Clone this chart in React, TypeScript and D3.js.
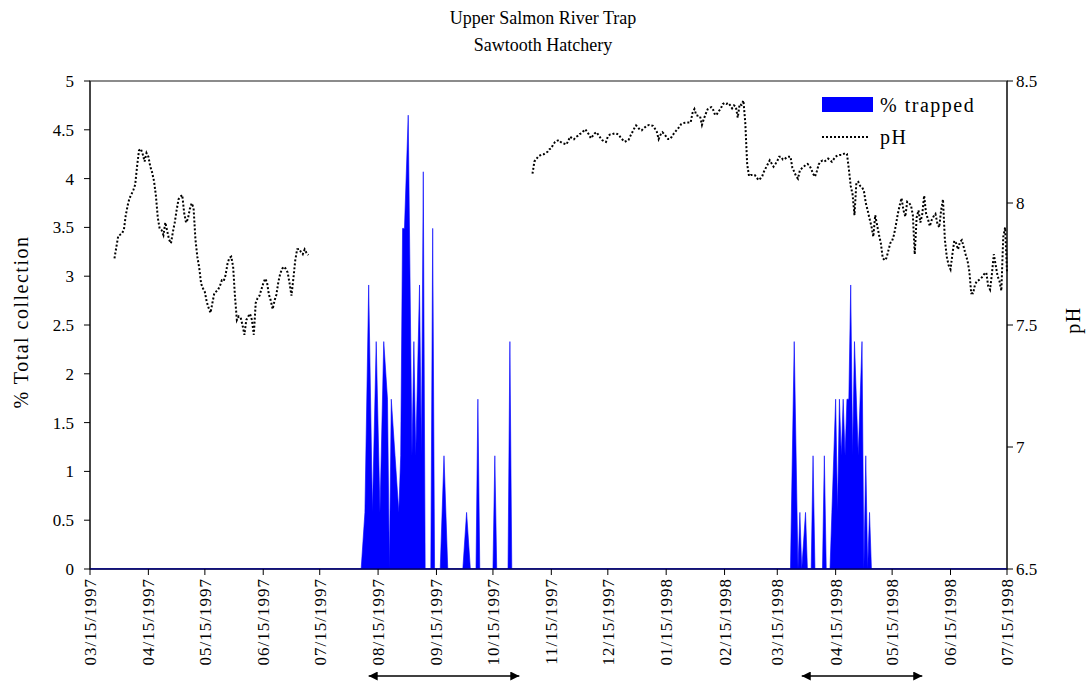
import React from "react";
import * as d3 from "d3";

// ---------- data ----------
const TITLE_LINES = ["Upper Salmon River Trap", "Sawtooth Hatchery"];
const LEFT_AXIS_TITLE = "% Total collection";
const RIGHT_AXIS_TITLE = "pH";
const LEGEND_LABELS = ["% trapped", "pH"];

const Y_LEFT_TICKS = [0, 0.5, 1, 1.5, 2, 2.5, 3, 3.5, 4, 4.5, 5];
const Y_RIGHT_TICKS = [6.5, 7, 7.5, 8, 8.5];
const X_TICKS = [
  "1997-03-15", "1997-04-15", "1997-05-15", "1997-06-15", "1997-07-15",
  "1997-08-15", "1997-09-15", "1997-10-15", "1997-11-15", "1997-12-15",
  "1998-01-15", "1998-02-15", "1998-03-15", "1998-04-15", "1998-05-15",
  "1998-06-15", "1998-07-15",
];

// % trapped (area series)
const TRAPPED_DATES = [
  "1997-03-15", "1997-08-06", "1997-08-08", "1997-08-10", "1997-08-12", "1997-08-14",
  "1997-08-16", "1997-08-18", "1997-08-20", "1997-08-21", "1997-08-22", "1997-08-24",
  "1997-08-26", "1997-08-27", "1997-08-28", "1997-08-29", "1997-08-31", "1997-09-02",
  "1997-09-03", "1997-09-04", "1997-09-06", "1997-09-07", "1997-09-08", "1997-09-09",
  "1997-09-12", "1997-09-13", "1997-09-14", "1997-09-17", "1997-09-19", "1997-09-21",
  "1997-09-29", "1997-10-01", "1997-10-03", "1997-10-06", "1997-10-07", "1997-10-08",
  "1997-10-15", "1997-10-16", "1997-10-17", "1997-10-23", "1997-10-24", "1997-10-25",
  "1998-03-22", "1998-03-24", "1998-03-26", "1998-03-27", "1998-03-28", "1998-03-30",
  "1998-03-31", "1998-04-02", "1998-04-03", "1998-04-04", "1998-04-08", "1998-04-09",
  "1998-04-10", "1998-04-12", "1998-04-13", "1998-04-15", "1998-04-16", "1998-04-17",
  "1998-04-18", "1998-04-19", "1998-04-20", "1998-04-21", "1998-04-22", "1998-04-23",
  "1998-04-24", "1998-04-25", "1998-04-27", "1998-04-29", "1998-04-30", "1998-05-01",
  "1998-05-02", "1998-05-03", "1998-05-04", "1998-07-15",
];
const TRAPPED_VALUES = [
  0, 0, 0.58, 2.91, 0.58, 2.33,
  0.58, 2.33, 1.74, 0, 1.74, 1.16,
  0.58, 1.16, 3.49, 3.49, 4.65, 1.16,
  2.33, 1.16, 2.91, 1.16, 4.07, 0,
  0, 3.49, 0, 0, 1.16, 0,
  0, 0.58, 0, 0, 1.74, 0,
  0, 1.16, 0, 0, 2.33, 0,
  0, 2.33, 0, 0.58, 0, 0.58,
  0, 0, 1.16, 0, 0, 1.16,
  0, 0, 0.58, 1.74, 0.58, 1.74,
  1.16, 1.74, 1.16, 1.74, 1.74, 2.91,
  1.16, 2.33, 1.16, 2.33, 0, 1.16,
  0, 0.58, 0, 0,
];

// pH daily readings, two runs
const PH1_START = "1997-03-28";
const PH1 = [
  7.773, 7.82, 7.865, 7.87, 7.876, 7.89, 7.95, 7.99, 8.02, 8.035,
  8.053, 8.075, 8.15, 8.215, 8.222, 8.2, 8.17, 8.205, 8.19, 8.15,
  8.125, 8.09, 8.03, 7.94, 7.895, 7.889, 7.869, 7.92, 7.885, 7.85,
  7.835, 7.88, 7.92, 7.97, 8.015, 8.026, 8.033, 7.96, 7.92, 7.935,
  7.975, 7.999, 7.98, 7.85, 7.78, 7.735, 7.67, 7.65, 7.635, 7.595,
  7.57, 7.55, 7.59, 7.63, 7.637, 7.645, 7.66, 7.683, 7.68, 7.705,
  7.75, 7.775, 7.78, 7.74, 7.616, 7.52, 7.535, 7.53, 7.5, 7.46,
  7.52, 7.535, 7.546, 7.52, 7.46, 7.59, 7.61, 7.62, 7.645, 7.67,
  7.69, 7.675, 7.625, 7.6, 7.565, 7.6, 7.625, 7.675, 7.71, 7.73,
  7.739, 7.73, 7.715, 7.67, 7.62, 7.69, 7.765, 7.81, 7.812, 7.8,
  7.79, 7.81, 7.795, 7.787,
];
const PH2_START = "1997-11-05";
const PH2 = [
  8.12, 8.17, 8.18, 8.19, 8.195, 8.2, 8.2, 8.205, 8.21, 8.22,
  8.225, 8.24, 8.25, 8.255, 8.258, 8.25, 8.245, 8.243, 8.24, 8.255,
  8.272, 8.265, 8.261, 8.27, 8.275, 8.282, 8.286, 8.294, 8.302, 8.292,
  8.28, 8.265, 8.275, 8.285, 8.29, 8.279, 8.268, 8.258, 8.252, 8.25,
  8.272, 8.28, 8.281, 8.284, 8.286, 8.283, 8.278, 8.265, 8.258, 8.251,
  8.255, 8.258, 8.275, 8.29, 8.305, 8.318, 8.31, 8.3, 8.298, 8.306,
  8.312, 8.318, 8.32, 8.318, 8.316, 8.305, 8.292, 8.262, 8.28, 8.29,
  8.282, 8.272, 8.262, 8.262, 8.272, 8.284, 8.294, 8.303, 8.312, 8.324,
  8.327, 8.329, 8.33, 8.33, 8.33, 8.37, 8.385, 8.36, 8.357, 8.355,
  8.32, 8.345, 8.365, 8.384, 8.39, 8.393, 8.381, 8.36, 8.365, 8.377,
  8.387, 8.405, 8.41, 8.406, 8.41, 8.4, 8.388, 8.4, 8.395, 8.35,
  8.405, 8.402, 8.42, 8.33, 8.16, 8.11, 8.115, 8.115, 8.115, 8.105,
  8.094, 8.1, 8.11, 8.13, 8.145, 8.16, 8.175, 8.162, 8.149, 8.16,
  8.172, 8.19, 8.19, 8.178, 8.18, 8.188, 8.19, 8.19, 8.145, 8.128,
  8.11, 8.1, 8.134, 8.142, 8.149, 8.155, 8.16, 8.155, 8.14, 8.12,
  8.108, 8.13, 8.158, 8.17, 8.174, 8.17, 8.175, 8.182, 8.176, 8.169,
  8.18, 8.19, 8.195, 8.197, 8.197, 8.2, 8.204, 8.201, 8.14, 8.07,
  8.035, 7.95, 8.083, 8.087, 8.07, 8.065, 8.05, 8.0, 7.97, 7.935,
  7.905, 7.862, 7.95, 7.91, 7.87, 7.835, 7.775, 7.765, 7.775, 7.805,
  7.835, 7.845, 7.87, 7.91, 7.955, 7.99, 8.02, 7.971, 7.944, 8.005,
  8.0, 7.99, 7.95, 7.79, 7.94, 7.97, 7.92, 7.955, 8.03, 7.958,
  7.935, 7.905, 7.93, 7.945, 7.955, 7.917, 7.9, 7.97, 8.015, 7.85,
  7.78, 7.745, 7.728, 7.79, 7.845, 7.835, 7.81, 7.84, 7.848, 7.82,
  7.79, 7.765, 7.72, 7.63, 7.63, 7.665, 7.68, 7.684, 7.69, 7.698,
  7.71, 7.715, 7.66, 7.645, 7.71, 7.79, 7.745, 7.7, 7.68, 7.64,
  7.86, 7.9, 7.72,
];

// trapping-period arrows under the date axis
const ARROW_STARTS = ["1997-08-10", "1998-03-28"];
const ARROW_ENDS = ["1997-10-29", "1998-05-31"];

// ---------- chart ----------
const FONT = "'Liberation Serif', 'Times New Roman', serif";
const parse = d3.timeParse("%Y-%m-%d");
const fmt = d3.timeFormat("%m/%d/%Y");

export default function App() {
  const W = 1086, H = 683;
  const L = 90, R = 1007, T = 81, B = 569;

  const x = d3.scaleTime()
    .domain([parse(X_TICKS[0]) as Date, parse(X_TICKS[X_TICKS.length - 1]) as Date])
    .range([L, R]);
  const yL = d3.scaleLinear().domain([0, 5]).range([B, T]);
  const yR = d3.scaleLinear().domain([6.5, 8.5]).range([B, T]);

  const trapped = TRAPPED_DATES.map((d, i) => ({ date: parse(d) as Date, v: TRAPPED_VALUES[i] }));
  const area = d3.area<{ date: Date; v: number }>()
    .x((d) => x(d.date))
    .y0(yL(0))
    .y1((d) => yL(d.v));

  const phRuns = [
    { start: PH1_START, vals: PH1 },
    { start: PH2_START, vals: PH2 },
  ].map(({ start, vals }) =>
    vals.map((v, i) => ({ date: d3.timeDay.offset(parse(start) as Date, i), v }))
  );
  const line = d3.line<{ date: Date; v: number }>()
    .x((d) => x(d.date))
    .y((d) => yR(d.v));

  const xTicks = X_TICKS.map((t) => parse(t) as Date);
  const arrowY = 676;

  return (
    <svg
      width={W}
      height={H}
      style={{ position: "absolute", left: 0, top: 0, background: "#fff" }}
      fontFamily={FONT}
    >
      <defs>
        <marker id="arrowHead" viewBox="0 0 10 10" refX="10" refY="5"
          markerWidth="10" markerHeight="9" markerUnits="userSpaceOnUse"
          orient="auto-start-reverse">
          <path d="M0,0 L10,5 L0,10 z" fill="#000" />
        </marker>
        <clipPath id="plotClip">
          <rect x={L} y={T - 2} width={R - L} height={B - T + 2} />
        </clipPath>
      </defs>

      {/* Title */}
      {TITLE_LINES.map((t, i) => (
        <text key={t} x={543} y={24 + i * 27} textAnchor="middle" fontSize={18} fill="#000">
          {t}
        </text>
      ))}

      {/* plot frame */}
      <rect x={L} y={T} width={R - L} height={B - T} fill="#fff" stroke="#666" strokeWidth={1.5} />

      {/* area */}
      <g clipPath="url(#plotClip)">
        <path d={area(trapped) || ""} fill="#0000ff" stroke="#0000ff" strokeWidth={0.6} />
      </g>

      {/* pH dotted lines */}
      {phRuns.map((run, i) => (
        <path key={i} d={line(run) || ""} fill="none" stroke="#000" strokeWidth={2}
          strokeDasharray="2,2" />
      ))}

      {/* axes */}
      <line x1={L} x2={L} y1={T} y2={B} stroke="#000" strokeWidth={1} />
      <line x1={R} x2={R} y1={T} y2={B} stroke="#000" strokeWidth={1} />
      <line x1={L} x2={R} y1={B} y2={B} stroke="#000066" strokeWidth={1.5} />

      {/* left ticks */}
      {Y_LEFT_TICKS.map((t) => (
        <g key={"l" + t}>
          <line x1={L - 6} x2={L} y1={yL(t)} y2={yL(t)} stroke="#000" />
          <text x={74} y={yL(t)} dy="0.35em" textAnchor="end" fontSize={17}>{t}</text>
        </g>
      ))}
      {/* right ticks */}
      {Y_RIGHT_TICKS.map((t) => (
        <g key={"r" + t}>
          <line x1={R} x2={R + 6} y1={yR(t)} y2={yR(t)} stroke="#000" />
          <text x={1016} y={yR(t)} dy="0.35em" textAnchor="start" fontSize={17}>{t}</text>
        </g>
      ))}
      {/* x ticks */}
      {xTicks.map((t, i) => (
        <g key={"x" + i}>
          <line x1={x(t)} x2={x(t)} y1={B} y2={B + 6} stroke="#000" />
          <text transform={`translate(${x(t)},${578}) rotate(-90)`} dy="0.35em"
            textAnchor="end" fontSize={17} letterSpacing={1}>
            {fmt(t)}
          </text>
        </g>
      ))}

      {/* axis titles */}
      <text transform={`translate(28,322) rotate(-90)`} textAnchor="middle" fontSize={20}
        letterSpacing={1.5}>
        {LEFT_AXIS_TITLE}
      </text>
      <text transform={`translate(1080,320) rotate(-90)`} textAnchor="middle" fontSize={20}
        letterSpacing={1.5}>
        {RIGHT_AXIS_TITLE}
      </text>

      {/* legend */}
      <rect x={822} y={97} width={51} height={15} fill="#0000ff" />
      <text x={880} y={111.5} fontSize={20} letterSpacing={1.5}>{LEGEND_LABELS[0]}</text>
      <line x1={822} x2={870} y1={137} y2={137} stroke="#000" strokeWidth={2} strokeDasharray="2,2" />
      <text x={880} y={144} fontSize={20} letterSpacing={1.5}>{LEGEND_LABELS[1]}</text>

      {/* arrows */}
      {ARROW_STARTS.map((s, i) => (
        <line key={"a" + i}
          x1={x(parse(s) as Date)} x2={x(parse(ARROW_ENDS[i]) as Date)}
          y1={arrowY} y2={arrowY}
          stroke="#000" strokeWidth={1.5}
          markerStart="url(#arrowHead)" markerEnd="url(#arrowHead)" />
      ))}
    </svg>
  );
}
